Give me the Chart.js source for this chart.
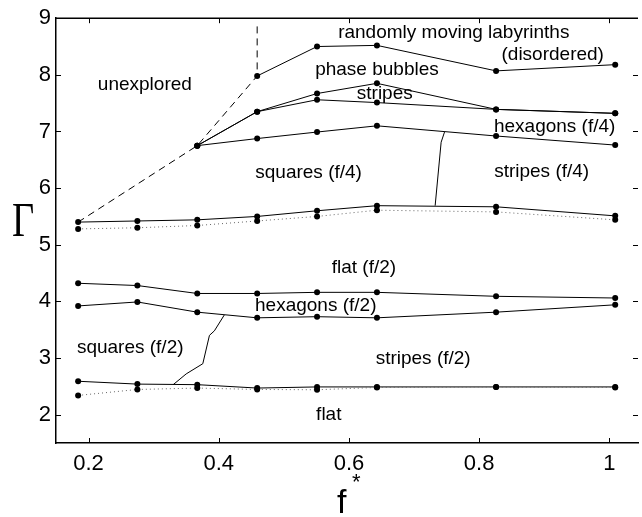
<!DOCTYPE html>
<html>
<head>
<meta charset="utf-8">
<script src="https://cdn.jsdelivr.net/npm/chart.js@4/dist/chart.umd.min.js"></script>
<style>
  body { margin: 0; background: #fff; }
  #wrap { width: 642px; height: 517px; }
</style>
</head>
<body>
<div id="wrap"><canvas id="phaseChart" width="642" height="517"></canvas></div>
<script>
// Axes
const xTicks = [0.2, 0.4, 0.6, 0.8, 1];
const yTicks = [2, 3, 4, 5, 6, 7, 8, 9];

// Driving frequencies f*
const fAll = [0.184, 0.275, 0.367, 0.459, 0.551, 0.643, 0.826, 1.009];
const fMid = [0.367, 0.459, 0.551, 0.643, 0.826, 1.009];
const fHigh = [0.459, 0.551, 0.643, 0.826, 1.009];

// Boundaries (Gamma values)
const labyrinthY = [7.98, 8.50, 8.52, 8.07, 8.18];
const bubblesY = [6.75, 7.35, 7.67, 7.85, 7.39, 7.32];
const stripesY = [6.75, 7.35, 7.56, 7.51, 7.39, 7.32];
const hex4Y = [6.75, 6.875, 6.99, 7.10, 6.92, 6.76];
const squares4Y = [5.40, 5.42, 5.44, 5.50, 5.60, 5.69, 5.67, 5.51];
const flat2DotY = [5.28, 5.30, 5.34, 5.42, 5.50, 5.61, 5.58, 5.44];
const hex2TopY = [4.32, 4.28, 4.14, 4.14, 4.16, 4.16, 4.09, 4.06];
const hex2BotY = [3.92, 3.99, 3.81, 3.71, 3.73, 3.71, 3.81, 3.94];
const squares2Y = [2.59, 2.54, 2.53, 2.47, 2.49, 2.49, 2.49, 2.49];
const flatDotY = [2.34, 2.445, 2.47, 2.445, 2.44, 2.48, 2.49, 2.48];

// Unexplored region edge (dashed)
const unexpX = [0.184, 0.367, 0.459, 0.459];
const unexpY = [5.40, 6.75, 7.98, 8.87];

// Thin boundaries squares / stripes
const sq4CurveX = [0.7324, 0.7416, 0.7468];
const sq4CurveY = [5.69, 6.81, 6.99];
const sq2CurveX = [0.330, 0.350, 0.3755, 0.3857, 0.3933, 0.4085];
const sq2CurveY = [2.53, 2.72, 2.90, 3.40, 3.48, 3.76];

// Region labels
const labelText = ['unexplored', 'randomly moving labyrinths', '(disordered)', 'phase bubbles', 'stripes',
  'hexagons (f/4)', 'squares (f/4)', 'stripes (f/4)', 'flat (f/2)', 'hexagons (f/2)', 'squares (f/2)',
  'stripes (f/2)', 'flat'];
const labelX = [0.2865, 0.761, 0.913, 0.643, 0.655, 0.916, 0.538, 0.896, 0.623, 0.549, 0.264, 0.714, 0.569];
const labelY = [7.83, 8.74, 8.35, 8.09, 7.67, 7.09, 6.27, 6.29, 4.60, 3.92, 3.18, 2.98, 2.0];

const pts = (xs, ys) => xs.map((x, i) => ({ x: x, y: ys[i] }));

const solid = (xs, ys) => ({
  data: pts(xs, ys),
  borderColor: '#000',
  backgroundColor: '#000',
  borderWidth: 1,
  pointRadius: 3,
  pointBorderWidth: 0,
  showLine: true
});

const dotted = (xs, ys) => ({
  data: pts(xs, ys),
  borderColor: '#666',
  backgroundColor: '#000',
  borderWidth: 1,
  borderDash: [1, 3],
  pointRadius: 3,
  pointBorderWidth: 0,
  showLine: true
});

const thin = (xs, ys, dash) => ({
  data: pts(xs, ys),
  borderColor: '#000',
  borderWidth: 1,
  borderDash: dash || [],
  pointRadius: 0,
  showLine: true
});

// Ticks inside, top border, labels and axis titles
const decorations = {
  id: 'decorations',
  afterDraw: (chart) => {
    const ctx = chart.ctx;
    const a = chart.chartArea;
    const xs = chart.scales.x;
    const ys = chart.scales.y;
    ctx.save();
    ctx.strokeStyle = '#000';
    ctx.lineWidth = 1;
    ctx.beginPath();
    xTicks.forEach(v => {
      const px = Math.round(xs.getPixelForValue(v)) + 0.5;
      ctx.moveTo(px, a.bottom); ctx.lineTo(px, a.bottom - 5);
      ctx.moveTo(px, a.top); ctx.lineTo(px, a.top + 5);
    });
    yTicks.forEach(v => {
      const py = Math.round(ys.getPixelForValue(v)) + 0.5;
      ctx.moveTo(a.left, py); ctx.lineTo(a.left + 5, py);
      ctx.moveTo(a.right, py); ctx.lineTo(a.right - 5, py);
    });
    ctx.stroke();
    ctx.lineWidth = 1.5;
    ctx.beginPath();
    ctx.moveTo(a.left, a.top); ctx.lineTo(a.right, a.top);
    ctx.stroke();

    ctx.fillStyle = '#000';
    ctx.font = '19px "Liberation Sans", Arial, sans-serif';
    ctx.textAlign = 'center';
    ctx.textBaseline = 'middle';
    labelText.forEach((t, i) => {
      ctx.fillText(t, xs.getPixelForValue(labelX[i]), ys.getPixelForValue(labelY[i]));
    });

    // Gamma
    const midY = (a.top + a.bottom) / 2;
    ctx.save();
    ctx.translate(23, midY - 7);
    ctx.scale(0.8, 1);
    ctx.font = '48px "Liberation Serif", "Times New Roman", serif';
    ctx.fillText('\u0393', 0, 0);
    ctx.restore();

    // f*
    const midX = (a.left + a.right) / 2;
    ctx.textAlign = 'left';
    ctx.textBaseline = 'alphabetic';
    ctx.font = '34px "Liberation Sans", Arial, sans-serif';
    ctx.fillText('f', midX - 10, a.bottom + 70);
    ctx.font = '22px "Liberation Sans", Arial, sans-serif';
    ctx.fillText('*', midX + 5, a.bottom + 46);
    ctx.restore();
  }
};

const tickFont = { family: '"Liberation Sans", Arial, sans-serif', size: 22 };

new Chart(document.getElementById('phaseChart'), {
  type: 'scatter',
  data: {
    datasets: [
      dotted(fAll, flat2DotY),
      dotted(fAll, flatDotY),
      thin(unexpX, unexpY, [7, 5]),
      thin(sq4CurveX, sq4CurveY),
      thin(sq2CurveX, sq2CurveY),
      solid(fHigh, labyrinthY),
      solid(fMid, bubblesY),
      solid(fMid, stripesY),
      solid(fMid, hex4Y),
      solid(fAll, squares4Y),
      solid(fAll, hex2TopY),
      solid(fAll, hex2BotY),
      solid(fAll, squares2Y)
    ]
  },
  options: {
    responsive: false,
    animation: false,
    devicePixelRatio: 1,
    layout: { padding: { top: 15, right: 0, left: 0, bottom: 0 } },
    plugins: { legend: { display: false }, tooltip: { enabled: false } },
    scales: {
      x: {
        type: 'linear',
        min: 0.15,
        max: 1.044,
        grid: { display: false, drawTicks: false },
        border: { display: true, color: '#000', width: 1.5 },
        afterBuildTicks: (s) => { s.ticks = xTicks.map(v => ({ value: v })); },
        afterFit: (s) => { s.height = 74; },
        ticks: {
          color: '#000',
          font: tickFont,
          padding: 8,
          maxRotation: 0,
          callback: (v) => String(v)
        }
      },
      y: {
        type: 'linear',
        min: 1.5,
        max: 9,
        grid: { display: false, drawTicks: false },
        border: { display: true, color: '#000', width: 1.5 },
        afterBuildTicks: (s) => { s.ticks = yTicks.map(v => ({ value: v })); },
        afterFit: (s) => { s.width = 56; },
        ticks: {
          color: '#000',
          font: tickFont,
          padding: 5,
          callback: (v) => String(v)
        }
      }
    }
  },
  plugins: [decorations]
});
</script>
</body>
</html>
